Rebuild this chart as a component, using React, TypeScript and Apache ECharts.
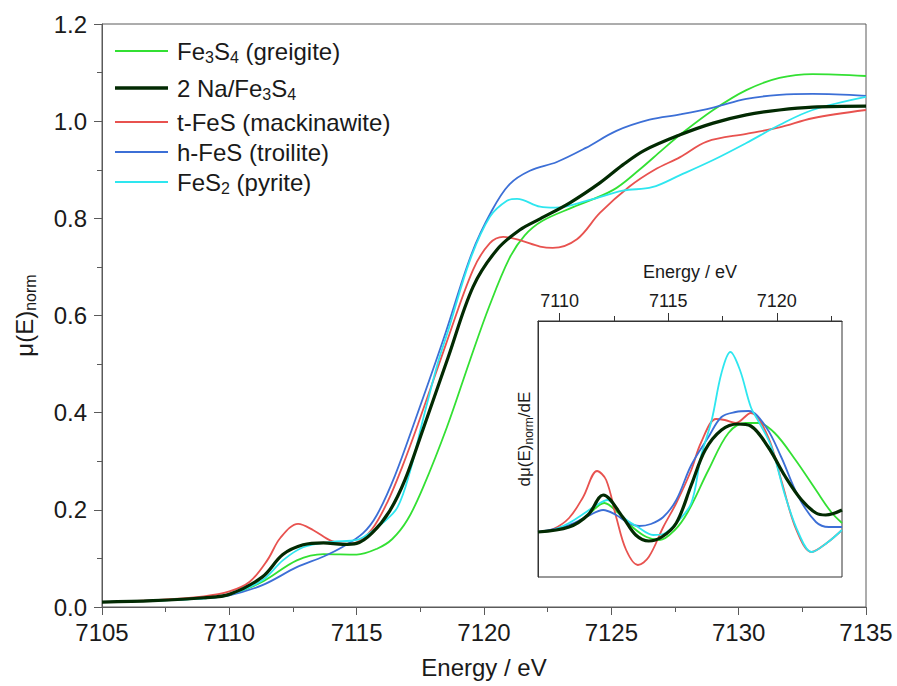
import React, { useEffect, useRef } from "react";
import * as echarts from "echarts";

// ---- Main XANES spectra: [energy (eV), normalized mu(E)] ----
const greigite: [number, number][] = [
  [7105, 0.010], [7107, 0.013], [7109, 0.018], [7110, 0.025], [7111.3, 0.052], [7112.65, 0.096],
  [7113.7, 0.109], [7115.0, 0.108], [7115.8, 0.120], [7116.4, 0.140], [7117.0, 0.180], [7117.6, 0.245],
  [7118.55, 0.371], [7119.45, 0.508], [7120.2, 0.618], [7121.0, 0.718], [7121.6, 0.765], [7122.3, 0.795],
  [7123.5, 0.823], [7125.06, 0.858], [7126.1, 0.900], [7127.0, 0.941], [7127.7, 0.972], [7129.0, 1.023],
  [7130.3, 1.064], [7131.6, 1.089], [7132.9, 1.097], [7135, 1.093],
];
const naFe3S4: [number, number][] = [
  [7105, 0.010], [7107, 0.013], [7109, 0.019], [7110, 0.026], [7111.3, 0.062], [7112.1, 0.108],
  [7112.9, 0.128], [7113.7, 0.132], [7114.46, 0.129], [7115.0, 0.131], [7115.6, 0.152], [7116.3, 0.198],
  [7116.9, 0.262], [7117.6, 0.365], [7118.6, 0.515], [7119.57, 0.659], [7120.5, 0.735], [7121.4, 0.776],
  [7122.2, 0.799], [7123.37, 0.832], [7124.55, 0.873], [7125.45, 0.910], [7126.3, 0.940], [7127.7, 0.972],
  [7129.0, 0.996], [7130.3, 1.013], [7131.6, 1.023], [7132.9, 1.029], [7135, 1.031],
];
const mackinawite: [number, number][] = [
  [7105, 0.010], [7107, 0.014], [7109, 0.022], [7110, 0.032], [7110.8, 0.052], [7111.5, 0.097],
  [7112.0, 0.142], [7112.7, 0.171], [7113.3, 0.158], [7114.0, 0.136], [7114.6, 0.130], [7115.0, 0.133],
  [7115.6, 0.160], [7116.2, 0.215], [7116.8, 0.290], [7117.4, 0.375], [7118.5, 0.540], [7119.57, 0.694],
  [7120.23, 0.749], [7120.75, 0.762], [7121.4, 0.755], [7122.2, 0.742], [7122.7, 0.739], [7123.65, 0.757],
  [7124.55, 0.811], [7125.7, 0.865], [7126.7, 0.900], [7127.7, 0.926], [7128.75, 0.958], [7130.3, 0.974],
  [7131.6, 0.987], [7132.9, 1.006], [7135, 1.023],
];
const troilite: [number, number][] = [
  [7105, 0.010], [7107, 0.013], [7109, 0.018], [7110, 0.024], [7111.3, 0.045], [7112.65, 0.082],
  [7113.7, 0.104], [7114.46, 0.124], [7115.25, 0.152], [7115.8, 0.190], [7116.5, 0.270], [7117.3, 0.385],
  [7118.4, 0.550], [7119.5, 0.725], [7120.3, 0.815], [7121.0, 0.870], [7121.8, 0.898], [7122.86, 0.916],
  [7124.0, 0.945], [7125.2, 0.980], [7126.5, 1.003], [7127.7, 1.014], [7129.0, 1.028], [7130.3, 1.046],
  [7131.6, 1.054], [7132.9, 1.056], [7135, 1.052],
];
const pyrite: [number, number][] = [
  [7105, 0.010], [7107, 0.013], [7109, 0.018], [7110, 0.025], [7111.3, 0.055], [7112.1, 0.096],
  [7112.9, 0.123], [7114.0, 0.134], [7115.0, 0.138], [7115.5, 0.152], [7116.0, 0.172], [7116.6, 0.205],
  [7117.1, 0.280], [7117.6, 0.385], [7118.2, 0.505], [7118.6, 0.570], [7119.45, 0.714], [7120.23, 0.803],
  [7120.9, 0.836], [7121.3, 0.840], [7122.2, 0.824], [7122.8, 0.822], [7124.16, 0.838], [7125.45, 0.857],
  [7126.6, 0.864], [7127.7, 0.889], [7129.0, 0.920], [7130.3, 0.955], [7131.6, 0.992], [7132.9, 1.023],
  [7135, 1.050],
];

// ---- Inset: first derivative (arbitrary units) ----
const greigiteDeriv: [number, number][] = [
  [7109, 0.001], [7110.43, 0.006], [7111.3, 0.018], [7112.05, 0.030], [7112.7, 0.020], [7113.4, 0.005],
  [7114.0, -0.004], [7114.6, -0.007], [7115.3, 0.003], [7115.9, 0.021], [7116.85, 0.063], [7117.77, 0.100],
  [7118.55, 0.110], [7119.15, 0.110], [7119.9, 0.100], [7120.86, 0.073], [7121.8, 0.043], [7122.5, 0.021],
  [7123, 0.010],
];
const naFe3S4Deriv: [number, number][] = [
  [7109, 0.001], [7110.43, 0.006], [7111.3, 0.018], [7112.0, 0.038], [7112.9, 0.016], [7113.5, -0.002],
  [7114.1, -0.008], [7114.7, -0.004], [7115.37, 0.010], [7116.06, 0.048], [7116.7, 0.083], [7117.45, 0.103],
  [7118.2, 0.109], [7118.8, 0.107], [7119.6, 0.086], [7120.4, 0.056], [7121.14, 0.033], [7121.8, 0.020],
  [7122.25, 0.018], [7123, 0.023],
];
const mackinawiteDeriv: [number, number][] = [
  [7109, 0.001], [7109.7, 0.004], [7110.43, 0.015], [7111.08, 0.036], [7111.72, 0.062], [7112.14, 0.053],
  [7112.6, 0.016], [7113.06, -0.017], [7113.6, -0.032], [7114.1, -0.024], [7114.77, 0.006], [7115.37, 0.030],
  [7116.06, 0.063], [7116.5, 0.090], [7117.2, 0.114], [7117.6, 0.113], [7118.1, 0.110], [7118.8, 0.120],
  [7119.6, 0.096], [7120.2, 0.053], [7120.9, 0.003], [7121.6, -0.019], [7122.3, -0.010], [7123, 0.003],
];
const troiliteDeriv: [number, number][] = [
  [7109, 0.001], [7110.43, 0.008], [7111.3, 0.017], [7112.0, 0.023], [7112.6, 0.018], [7113.1, 0.011],
  [7113.66, 0.007], [7114.2, 0.009], [7114.77, 0.016], [7115.37, 0.033], [7116.06, 0.068], [7116.85, 0.096],
  [7117.45, 0.116], [7118.1, 0.121], [7118.7, 0.122], [7119.5, 0.106], [7120.2, 0.076], [7121.0, 0.036],
  [7121.8, 0.011], [7122.4, 0.006], [7123, 0.006],
];
const pyriteDeriv: [number, number][] = [
  [7109, 0.001], [7109.7, 0.003], [7110.43, 0.010], [7111.08, 0.019], [7111.7, 0.028], [7112.2, 0.033],
  [7112.9, 0.016], [7113.6, 0.006], [7114.3, -0.002], [7114.77, -0.001], [7115.37, 0.010], [7116.06, 0.030],
  [7116.5, 0.076], [7117.0, 0.113], [7117.45, 0.160], [7117.86, 0.181], [7118.3, 0.163], [7118.8, 0.126],
  [7119.2, 0.110], [7119.75, 0.086], [7120.4, 0.036], [7121.0, 0.000], [7121.6, -0.019], [7122.3, -0.010],
  [7123, 0.003],
];

const mainXTicks = { min: 7105, max: 7135, interval: 5 };
const mainYTicks = { min: 0, max: 1.2, interval: 0.2 };
const insetXRange = { min: 7109, max: 7123 };
const insetXMajor = [7110, 7115, 7120];
const insetXMinor = [7112.5, 7117.5, 7122.5];
const insetYRange = { min: -0.044, max: 0.212 };

const FONT = "'Liberation Sans', Arial, Helvetica, sans-serif";
const TEXT = "#1a1a1a";
const AXIS = "#5a5a5a";

const C_GREEN = "#33e033";
const C_DARK = "#022a02";
const C_RED = "#e8524f";
const C_BLUE = "#3c6fd6";
const C_CYAN = "#2ee6ef";

const legendItems = [
  { text: "Fe{s|3}S{s|4} (greigite)", color: C_GREEN, width: 2, y: 51 },
  { text: "2 Na/Fe{s|3}S{s|4}", color: C_DARK, width: 3.5, y: 88 },
  { text: "t-FeS (mackinawite)", color: C_RED, width: 2, y: 122 },
  { text: "h-FeS (troilite)", color: C_BLUE, width: 2, y: 152 },
  { text: "FeS{s|2} (pyrite)", color: C_CYAN, width: 2, y: 182 },
];

export default function App() {
  const ref = useRef<HTMLDivElement>(null);
  useEffect(() => {
    document.body.style.margin = "0";
    if (!ref.current) return;
    const chart = echarts.init(ref.current, undefined, { renderer: "svg" });

    const makeLine = (
      name: string,
      data: [number, number][],
      color: string,
      width: number,
      axisIdx: number
    ) => ({
      name,
      type: "line",
      xAxisIndex: axisIdx,
      yAxisIndex: axisIdx,
      data,
      showSymbol: false,
      smooth: 0.35,
      lineStyle: { color, width },
      itemStyle: { color },
      z: width > 2 ? 4 : 3,
    });

    const graphics: any[] = [];
    legendItems.forEach((it) => {
      graphics.push({
        type: "line",
        shape: { x1: 115, y1: it.y, x2: 168, y2: it.y },
        style: { stroke: it.color, lineWidth: it.width },
        z: 10,
      });
      graphics.push({
        type: "text",
        x: 177,
        y: it.y,
        style: {
          text: it.text,
          fontSize: 24,
          fontFamily: FONT,
          fill: TEXT,
          align: "left",
          verticalAlign: "middle",
          rich: {
            s: { fontSize: 16, fontFamily: FONT, fill: TEXT, padding: [12, 0, 0, 0] },
          },
        },
        z: 10,
      });
    });

    const plainNum = (v: number) => String(v);

    chart.setOption({
      animation: false,
      backgroundColor: "#fff",
      textStyle: { fontFamily: FONT },
      grid: [
        { left: 102, top: 24, width: 764, height: 583, show: true, borderColor: AXIS, borderWidth: 1 },
        { left: 538, top: 321, width: 304, height: 256, show: true, borderColor: "#333", borderWidth: 1, backgroundColor: "#fff" },
      ],
      xAxis: [
        {
          type: "value",
          gridIndex: 0,
          ...mainXTicks,
          name: "Energy / eV",
          nameLocation: "middle",
          nameGap: 48,
          nameTextStyle: { fontSize: 24, color: TEXT, fontFamily: FONT },
          axisLine: { show: true, onZero: false, lineStyle: { color: AXIS, width: 1 } },
          axisTick: { show: true, inside: false, length: 8, lineStyle: { color: AXIS } },
          minorTick: { show: true, splitNumber: 2, length: 5, lineStyle: { color: AXIS } },
          axisLabel: { fontSize: 24, color: TEXT, margin: 13, fontFamily: FONT, formatter: plainNum },
          splitLine: { show: false },
        },
        {
          type: "value",
          gridIndex: 1,
          position: "top",
          ...insetXRange,
          name: "Energy / eV",
          nameLocation: "middle",
          nameGap: 40,
          nameTextStyle: { fontSize: 18, color: TEXT, fontFamily: FONT },
          axisLine: { show: true, onZero: false, lineStyle: { color: "#333", width: 1 } },
          axisTick: { show: true, inside: false, length: 8, customValues: insetXMajor, lineStyle: { color: "#333" } },
          axisLabel: { fontSize: 18, color: TEXT, margin: 11, customValues: insetXMajor, fontFamily: FONT, formatter: plainNum },
          splitLine: { show: false },
        },
        {
          type: "value",
          gridIndex: 1,
          position: "top",
          ...insetXRange,
          axisLine: { show: false, onZero: false },
          axisTick: { show: true, inside: false, length: 5, customValues: insetXMinor, lineStyle: { color: "#333" } },
          axisLabel: { show: false },
          splitLine: { show: false },
        },
      ],
      yAxis: [
        {
          type: "value",
          gridIndex: 0,
          ...mainYTicks,
          name: "{a|μ(E)}{b|norm}",
          nameLocation: "middle",
          nameRotate: 90,
          nameGap: 64,
          nameTextStyle: {
            color: TEXT,
            fontSize: 24,
            fontFamily: FONT,
            rich: {
              a: { fontSize: 24, fontFamily: FONT, color: TEXT },
              b: { fontSize: 16, fontFamily: FONT, color: TEXT, padding: [12, 0, 0, 0] },
            },
          },
          axisLine: { show: true, onZero: false, lineStyle: { color: AXIS, width: 1 } },
          axisTick: { show: true, inside: false, length: 8, lineStyle: { color: AXIS } },
          minorTick: { show: true, splitNumber: 2, length: 5, lineStyle: { color: AXIS } },
          axisLabel: {
            fontSize: 24,
            color: TEXT,
            margin: 15,
            fontFamily: FONT,
            formatter: (v: number) => v.toFixed(1),
          },
          splitLine: { show: false },
        },
        {
          type: "value",
          gridIndex: 1,
          ...insetYRange,
          name: "{a|dμ(E)}{b|norm}{a|/dE}",
          nameLocation: "middle",
          nameRotate: 90,
          nameGap: 3,
          nameTextStyle: {
            color: TEXT,
            fontSize: 17,
            fontFamily: FONT,
            padding: [0, 0, 0, 20],
            rich: {
              a: { fontSize: 17, fontFamily: FONT, color: TEXT },
              b: { fontSize: 12, fontFamily: FONT, color: TEXT, padding: [9, 0, 0, 0] },
            },
          },
          axisLine: { show: true, onZero: false, lineStyle: { color: "#333", width: 1 } },
          axisTick: { show: false },
          axisLabel: { show: false },
          splitLine: { show: false },
        },
      ],
      graphic: graphics,
      series: [
        makeLine("Fe3S4 (greigite)", greigite, C_GREEN, 1.8, 0),
        makeLine("t-FeS (mackinawite)", mackinawite, C_RED, 1.8, 0),
        makeLine("h-FeS (troilite)", troilite, C_BLUE, 1.8, 0),
        makeLine("FeS2 (pyrite)", pyrite, C_CYAN, 1.8, 0),
        makeLine("2 Na/Fe3S4", naFe3S4, C_DARK, 3.2, 0),
        makeLine("d Fe3S4 (greigite)", greigiteDeriv, C_GREEN, 1.8, 1),
        makeLine("d t-FeS (mackinawite)", mackinawiteDeriv, C_RED, 1.8, 1),
        makeLine("d h-FeS (troilite)", troiliteDeriv, C_BLUE, 1.8, 1),
        makeLine("d FeS2 (pyrite)", pyriteDeriv, C_CYAN, 1.8, 1),
        makeLine("d 2 Na/Fe3S4", naFe3S4Deriv, C_DARK, 3.2, 1),
      ],
    });
    return () => chart.dispose();
  }, []);
  return <div ref={ref} style={{ width: 897, height: 686 }} />;
}
